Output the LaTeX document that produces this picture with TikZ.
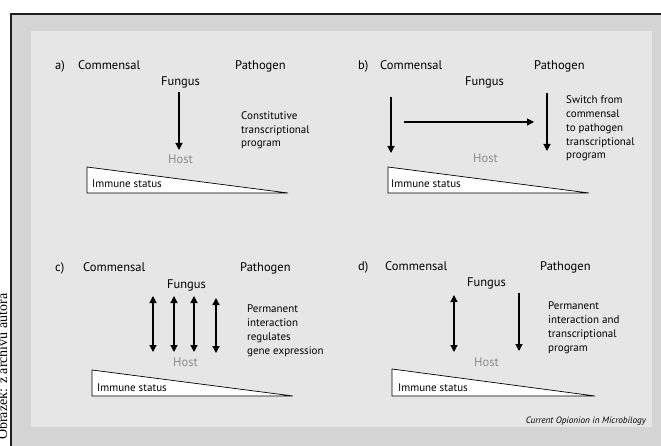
\documentclass[tikz,border=0pt]{standalone}
\usepackage{fontspec}
\setmainfont{PT Sans}
\newfontfamily\sideserif{Liberation Serif}
\usetikzlibrary{arrows.meta}
\definecolor{outergray}{HTML}{D4D4D4}
\definecolor{innergray}{HTML}{E6E6E6}
\definecolor{hostgray}{HTML}{8C8C8C}
\definecolor{borderk}{HTML}{1E1E1E}
\begin{document}
\begin{tikzpicture}[x=1pt,y=-1pt,
  lbl/.style={anchor=base west, inner sep=0pt, font=\fontsize{12.5}{14}\selectfont},
  hostlbl/.style={lbl, text=hostgray},
  para/.style={anchor=base west, inner sep=0pt, align=left, font=\fontsize{11}{13.8}\selectfont},
  immune/.style={anchor=base west, inner sep=0pt, font=\fontsize{11}{13}\selectfont},
  tri/.style={fill=white, draw=black, line width=0.7pt},
  arr/.style={line width=1.2pt, -{Triangle[width=7pt,length=7pt]}},
  darr/.style={line width=1.2pt, {Triangle[width=7pt,length=7pt]}-{Triangle[width=7pt,length=7pt]}}
]
\useasboundingbox (0,0) rectangle (661,446);
% frame
\fill[white] (0,0) rectangle (661,446);
\filldraw[fill=outergray, draw=borderk, line width=2.5pt] (10.75,14) rectangle (680,470);
\fill[innergray] (31,31) rectangle (652,427);
% side credit
\node[rotate=90, anchor=base west, inner sep=0pt, font=\sideserif\fontsize{14}{16}\selectfont] (side) at (7,440) {Obrázek: z archivu autora};

% ---------- panel a ----------
\node[lbl] (a-lab) at (55,70) {a)};
\node[lbl] (a-com) at (78,70) {Commensal};
\node[lbl] (a-pat) at (235,70) {Pathogen};
\node[lbl] (a-fun) at (161,86) {Fungus};
\node[hostlbl] (a-host) at (168,164) {Host};
\node[para] (a-txt) at (241,147) {Constitutive\\transcriptional\\program};
\draw[tri] (87,167) -- (288,193) -- (87,193) -- cycle;
\node[immune] (a-imm) at (92,188) {Immune status};
\coordinate (a-s) at (179,92); \coordinate (a-e) at (179,150);
\draw[arr] (a-s) -- (a-e);

% ---------- panel b ----------
\node[lbl] (b-lab) at (358,70) {b)};
\node[lbl] (b-com) at (380,70) {Commensal};
\node[lbl] (b-pat) at (534,70) {Pathogen};
\node[lbl] (b-fun) at (465,86) {Fungus};
\node[hostlbl] (b-host) at (473,163) {Host};
\node[para] (b-txt) at (566,159) {Switch from\\commensal\\to pathogen\\transcriptional\\program};
\draw[tri] (388,167) -- (589,193) -- (388,193) -- cycle;
\node[immune] (b-imm) at (391,188) {Immune status};
\coordinate (b-ls) at (391,97); \coordinate (b-le) at (391,153);
\coordinate (b-hs) at (404,122); \coordinate (b-he) at (534,122);
\coordinate (b-rs) at (547,93); \coordinate (b-re) at (547,151);
\draw[arr] (b-ls) -- (b-le);
\draw[arr] (b-hs) -- (b-he);
\draw[arr] (b-rs) -- (b-re);

% ---------- panel c ----------
\node[lbl] (c-lab) at (55,272) {c)};
\node[lbl] (c-com) at (83,272) {Commensal};
\node[lbl] (c-pat) at (240,272) {Pathogen};
\node[lbl] (c-fun) at (167,288) {Fungus};
\node[hostlbl] (c-host) at (173,366) {Host};
\node[para] (c-txt) at (247,354) {Permanent\\interaction\\regulates\\gene expression};
\draw[tri] (92,370) -- (293,396) -- (92,396) -- cycle;
\node[immune] (c-imm) at (97,391) {Immune status};
\coordinate (c-1s) at (153,296); \coordinate (c-1e) at (153,352);
\coordinate (c-2s) at (174,296); \coordinate (c-2e) at (174,352);
\coordinate (c-3s) at (194,296); \coordinate (c-3e) at (194,352);
\coordinate (c-4s) at (216,298); \coordinate (c-4e) at (216,353);
\draw[darr] (c-1s) -- (c-1e);
\draw[darr] (c-2s) -- (c-2e);
\draw[darr] (c-3s) -- (c-3e);
\draw[darr] (c-4s) -- (c-4e);

% ---------- panel d ----------
\node[lbl] (d-lab) at (358,271) {d)};
\node[lbl] (d-com) at (385,271) {Commensal};
\node[lbl] (d-pat) at (540,271) {Pathogen};
\node[lbl] (d-fun) at (467,287) {Fungus};
\node[hostlbl] (d-host) at (474,366) {Host};
\node[para] (d-txt) at (548,351) {Permanent\\interaction and\\transcriptional\\program};
\draw[tri] (392,369) -- (595,396) -- (392,396) -- cycle;
\node[immune] (d-imm) at (398,391) {Immune status};
\coordinate (d-ds) at (454,295); \coordinate (d-de) at (454,352);
\coordinate (d-as) at (519,293); \coordinate (d-ae) at (519,351);
\draw[darr] (d-ds) -- (d-de);
\draw[arr] (d-as) -- (d-ae);

\node[anchor=base east, inner sep=0pt, font=\fontsize{9.2}{11}\selectfont\itshape] (credit) at (646,423) {Current Opionion in Microbilogy};
\end{tikzpicture}
\end{document}
